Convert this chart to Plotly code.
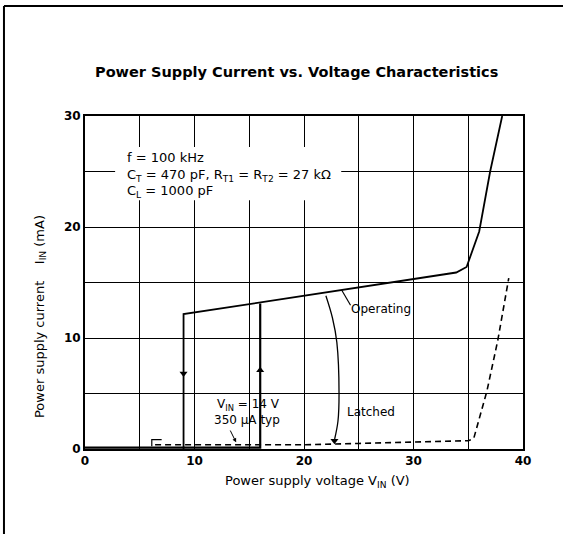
import plotly.graph_objects as go

# ---- data ----
op_x = [9.0, 9.0, 33.9, 34.85, 36.0, 37.0, 38.1]
op_y = [0.0, 12.15, 15.9, 16.4, 19.6, 25.0, 30.0]

start_x = [0.0, 16.0, 16.0]
start_y = [0.12, 0.12, 13.1]

latch_x = [6.4, 20.0, 25.0, 35.0, 35.5, 36.7, 37.7, 38.7]
latch_y = [0.38, 0.38, 0.5, 0.75, 0.95, 5.2, 9.8, 15.4]

hook_x = [6.1, 6.1, 7.0]
hook_y = [0.25, 0.85, 0.85]

trans_x = [22.0, 22.6, 23.0, 23.2, 23.1, 22.8]
trans_y = [13.8, 11.8, 9.6, 5.0, 2.5, 0.9]

lead_x = [23.45, 24.25]
lead_y = [14.3, 12.95]

arrow_x = [9.0, 16.0, 22.78]
arrow_y = [6.8, 7.1, 0.75]
arrow_sym = ["triangle-down", "triangle-up", "triangle-down"]

x_ticks = [0, 10, 20, 30, 40]
x_labels = ["0", "10", "20", "30", "40"]
y_ticks = [0, 10, 20, 30]
y_labels = ["0", "10", "20", "30"]

FONT = "DejaVu Sans"

fig = go.Figure()
lw = 1.8
fig.add_trace(go.Scatter(x=op_x, y=op_y, mode="lines", line=dict(color="black", width=lw)))
fig.add_trace(go.Scatter(x=start_x, y=start_y, mode="lines", line=dict(color="black", width=2.2)))
fig.add_trace(go.Scatter(x=latch_x, y=latch_y, mode="lines",
                         line=dict(color="black", width=1.6, dash="6px,4px")))
fig.add_trace(go.Scatter(x=hook_x, y=hook_y, mode="lines", line=dict(color="black", width=1.2)))
fig.add_trace(go.Scatter(x=trans_x, y=trans_y, mode="lines",
                         line=dict(color="black", width=1.3, shape="spline")))
fig.add_trace(go.Scatter(x=lead_x, y=lead_y, mode="lines", line=dict(color="black", width=1.2)))
fig.add_trace(go.Scatter(x=arrow_x, y=arrow_y, mode="markers",
                         marker=dict(symbol=arrow_sym, size=7, color="black")))

fig.update_layout(
    width=563, height=534,
    margin=dict(l=85, r=40, t=116, b=85),
    paper_bgcolor="white", plot_bgcolor="white",
    showlegend=False,
    font=dict(family=FONT, color="black", size=12),
)
axis_common = dict(
    showgrid=True, gridcolor="black", gridwidth=1.3,
    showline=True, linecolor="black", linewidth=2, mirror=True,
    zeroline=False, ticks="",
    tickfont=dict(family=FONT, size=12, color="black", weight="bold"),
    minor=dict(dtick=5, ticks="", showgrid=True, gridcolor="black", gridwidth=1.3),
)
fig.update_xaxes(range=[0, 40], tickvals=x_ticks, ticktext=x_labels, **axis_common)
fig.update_yaxes(range=[0, 30], tickvals=y_ticks, ticktext=y_labels, **axis_common)

# white box behind the condition text
fig.add_shape(type="rect", xref="x", yref="y", x0=2.75, x1=23.4, y0=22.4, y1=27.2,
              fillcolor="white", line=dict(width=0), layer="above")

ann = []
def txt(x, y, s, size=12, xanchor="left", xref="x", yref="y", **kw):
    ann.append(dict(x=x, y=y, xref=xref, yref=yref, text=s, showarrow=False,
                    xanchor=xanchor, yanchor="middle",
                    font=dict(family=FONT, size=size, color="black"), **kw))

txt(3.65, 26.3, "f = 100 kHz", size=13)
txt(3.65, 24.6, "C<sub>T</sub> = 470 pF, R<sub>T1</sub> = R<sub>T2</sub> = 27 kΩ", size=13)
txt(3.65, 23.2, "C<sub>L</sub> = 1000 pF", size=13)
txt(24.1, 12.6, "Operating")
txt(23.75, 3.33, "Latched")
txt(11.9, 3.96, "V<sub>IN</sub> = 14 V")
txt(11.6, 2.6, "350 μA typ")

# title
txt(0.482, 1.132, "<b>Power Supply Current vs. Voltage Characteristics</b>", size=14.5,
    xanchor="center", xref="paper", yref="paper")
# x axis title
txt(21.2, -0.099, "Power supply voltage V<sub>IN</sub> (V)", size=13,
    xanchor="center", yref="paper")
# y axis title
ann.append(dict(x=-0.103, y=0.399, xref="paper", yref="paper",
                text="Power supply current\u00a0\u00a0\u00a0\u00a0I<sub>IN</sub> (mA)",
                showarrow=False, textangle=-90, xanchor="center", yanchor="middle",
                font=dict(family=FONT, size=13, color="black")))

# small pointer arrow for 350 uA
ann.append(dict(x=13.8, y=0.6, ax=13.2, ay=1.8, xref="x", yref="y", axref="x", ayref="y",
                text="", showarrow=True, arrowhead=2, arrowsize=0.8, arrowwidth=1,
                arrowcolor="black"))

fig.update_layout(annotations=ann)

# outer frame (left and top edges)
fig.add_shape(type="line", xref="paper", yref="paper", x0=-0.185, x1=-0.185, y0=-0.26, y1=1.33,
              line=dict(color="black", width=2))
fig.add_shape(type="line", xref="paper", yref="paper", x0=-0.185, x1=1.1, y0=1.33, y1=1.33,
              line=dict(color="black", width=2))

fig.write_html("out.html", config={"displayModeBar": False},
               post_script="document.body.style.margin='0';document.body.style.padding='0';")
